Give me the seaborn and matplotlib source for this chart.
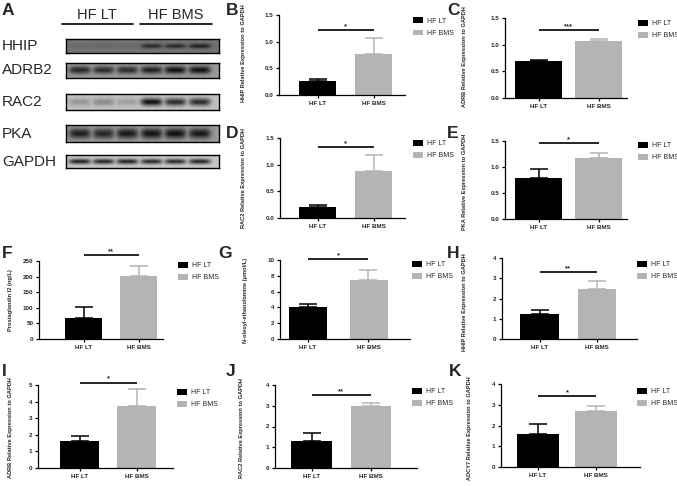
import numpy as np
import matplotlib
matplotlib.use("Agg")
import matplotlib.pyplot as plt
import seaborn as sns
import pandas as pd
from matplotlib.patches import Patch
from matplotlib.lines import Line2D

sns.set_theme(style="ticks")
plt.rcParams['font.family'] = ['Liberation Sans', 'DejaVu Sans']

# ---------------- data ----------------
groups = ["HF LT", "HF BMS"]
bar_colors = ["#000000", "#b4b4b4"]

# western blot (panel A): darkness of each band per lane (3 HF LT + 3 HF BMS)
blot_rows = ["HHIP", "ADRB2", "RAC2", "PKA", "GAPDH"]
blot_background = [0.45, 0.6, 0.76, 0.6, 0.78]
hhip_bands = [0.1, 0.12, 0.1, 0.75, 0.75, 0.85]
adrb2_bands = [0.85, 0.8, 0.8, 0.9, 1.0, 1.0]
rac2_bands = [0.25, 0.32, 0.2, 1.0, 0.85, 0.85]
pka_bands = [0.9, 0.85, 0.95, 1.0, 1.0, 0.95]
gapdh_bands = [0.9, 0.88, 0.9, 0.85, 0.85, 0.88]
band_thickness = [0.17, 0.24, 0.24, 0.3, 0.2]

# bar panels: mean and SEM for HF LT, HF BMS
hhip_wb_mean, hhip_wb_sem = [0.27, 0.77], [0.03, 0.30]
adrb_wb_mean, adrb_wb_sem = [0.69, 1.07], [0.02, 0.03]
rac2_wb_mean, rac2_wb_sem = [0.21, 0.88], [0.04, 0.30]
pka_wb_mean, pka_wb_sem = [0.79, 1.18], [0.18, 0.09]
pgi2_mean, pgi2_sem = [67, 202], [35, 33]
oea_mean, oea_sem = [4.05, 7.45], [0.40, 1.30]
hhip_q_mean, hhip_q_sem = [1.25, 2.48], [0.20, 0.39]
adrb_q_mean, adrb_q_sem = [1.63, 3.75], [0.32, 1.00]
rac2_q_mean, rac2_q_sem = [1.32, 3.00], [0.38, 0.15]
adcy7_q_mean, adcy7_q_sem = [1.60, 2.72], [0.45, 0.23]

ylabels = ["HHIP Relative Expression to GAPDH", "ADRB Relative Expression to GAPDH",
           "RAC2 Relative Expression to GAPDH", "PKA Relative Expression to GAPDH",
           "Prostaglandin I2 (ng/L)", "N-oleoyl-ethanolamine (μmol/L)",
           "HHIP Relative Expression to GAPDH", "ADRB Relative Expression to GAPDH",
           "RAC2 Relative Expression to GAPDH", "ADCY7 Relative Expression to GAPDH"]
significance = ["*", "***", "*", "*", "**", "*", "**", "*", "**", "*"]
yticks_small = [0, 0.5, 1.0, 1.5]
yticks_pgi2 = [0, 50, 100, 150, 200, 250]
yticks_oea = [0, 2, 4, 6, 8, 10]
yticks_four = [0, 1, 2, 3, 4]
yticks_five = [0, 1, 2, 3, 4, 5]

# ---------------- layout (pixels) ----------------
W, H = 677, 486
fig = plt.figure(figsize=(W / 100, H / 100), dpi=100)


def fbox(l, t, r, b):
    return [l / W, 1 - b / H, (r - l) / W, (b - t) / H]


bar_panels = [
    dict(letter="B", mean=hhip_wb_mean, sem=hhip_wb_sem, ticks=yticks_small, fmt="{:.1f}",
         box=(279, 15, 405, 95), bars=(299, 336, 355, 392), sig=1.22, leg=(413, 17.5),
         ylx=246, yly=53, let=(226, 3)),
    dict(letter="C", mean=adrb_wb_mean, sem=adrb_wb_sem, ticks=yticks_small, fmt="{:.1f}",
         box=(505, 18, 627, 98), bars=(515, 562, 575, 622), sig=1.27, leg=(638, 20),
         ylx=467, yly=57, let=(447, 3)),
    dict(letter="D", mean=rac2_wb_mean, sem=rac2_wb_sem, ticks=yticks_small, fmt="{:.1f}",
         box=(280, 138, 405, 218), bars=(299, 336, 355, 392), sig=1.33, leg=(413, 140),
         ylx=246, yly=178, let=(226, 126)),
    dict(letter="E", mean=pka_wb_mean, sem=pka_wb_sem, ticks=yticks_small, fmt="{:.1f}",
         box=(505, 141, 627, 219), bars=(515, 562, 575, 622), sig=1.46, leg=(638, 142),
         ylx=467, yly=182, let=(447, 126)),
    dict(letter="F", mean=pgi2_mean, sem=pgi2_sem, ticks=yticks_pgi2, fmt="{:d}",
         box=(39, 261, 163, 339), bars=(65, 102, 120, 157), sig=268, leg=(178, 262),
         ylx=13, yly=300, let=(2, 246)),
    dict(letter="G", mean=oea_mean, sem=oea_sem, ticks=yticks_oea, fmt="{:d}",
         box=(280, 260, 410, 339), bars=(288, 327, 350, 387), sig=10.1, leg=(412, 261),
         ylx=248, yly=300, let=(218, 246)),
    dict(letter="H", mean=hhip_q_mean, sem=hhip_q_sem, ticks=yticks_four, fmt="{:d}",
         box=(502, 258, 637, 339), bars=(520, 559, 578, 616), sig=3.3, leg=(637, 261),
         ylx=467, yly=302, let=(447, 246)),
    dict(letter="I", mean=adrb_q_mean, sem=adrb_q_sem, ticks=yticks_five, fmt="{:d}",
         box=(38, 385, 173, 468), bars=(60, 99, 117, 156), sig=5.14, leg=(177, 389),
         ylx=13, yly=428, let=(2, 364)),
    dict(letter="J", mean=rac2_q_mean, sem=rac2_q_sem, ticks=yticks_four, fmt="{:d}",
         box=(275, 385, 417, 468), bars=(290, 333, 352, 390), sig=3.52, leg=(412, 388),
         ylx=244, yly=428, let=(226, 364)),
    dict(letter="K", mean=adcy7_q_mean, sem=adcy7_q_sem, ticks=yticks_four, fmt="{:d}",
         box=(501, 384, 640, 467), bars=(517, 559, 575, 617), sig=3.42, leg=(637, 388),
         ylx=472, yly=428, let=(449, 364)),
]

for i, p in enumerate(bar_panels):
    L, T, R, B = p["box"]
    ax = fig.add_axes(fbox(L, T, R, B))
    df = pd.DataFrame({"group": groups, "value": p["mean"]})
    l1, r1, l2, r2 = p["bars"]
    c1, c2 = (l1 + r1) / 2, (l2 + r2) / 2
    unit = c2 - c1
    width = ((r1 - l1) + (r2 - l2)) / 2 / unit
    sns.barplot(data=df, x="group", y="value", hue="group", palette=bar_colors,
                order=groups, hue_order=groups, width=width, errorbar=None,
                legend=False, ax=ax, saturation=1, edgecolor="none")
    for k in range(2):
        ax.errorbar(k, p["mean"][k], yerr=[[0], [p["sem"][k]]], color=bar_colors[k],
                    capsize=6.5, elinewidth=1.1, capthick=1.1, lw=0)
    ax.set_xlim(-(c1 - L) / unit, (R - c1) / unit)
    ticks = p["ticks"]
    ax.set_ylim(0, ticks[-1])
    ax.set_yticks(ticks)
    ax.set_yticklabels([p["fmt"].format(t) for t in ticks])
    ax.set_xlabel("")
    ax.set_ylabel(ylabels[i], fontsize=4.1, fontweight="bold")
    ax.yaxis.set_label_coords(p["ylx"] / W, 1 - p["yly"] / H, transform=fig.transFigure)
    ax.tick_params(axis="both", length=2.5, width=0.9, labelsize=4.5, pad=1.5, color="black")
    for lbl in ax.get_xticklabels() + ax.get_yticklabels():
        lbl.set_fontweight("bold")
    for s in ["top", "right"]:
        ax.spines[s].set_visible(False)
    for s in ["left", "bottom"]:
        ax.spines[s].set_linewidth(0.9)
        ax.spines[s].set_color("black")
    # significance bar
    ax.plot([0, 1], [p["sig"], p["sig"]], color="black", lw=1.2, clip_on=False,
            solid_capstyle="butt")
    ax.text(0.5, p["sig"], significance[i], ha="center", va="bottom", fontsize=5.5,
            fontweight="bold", clip_on=False)
    handles = [Patch(facecolor=c, edgecolor="none", label=g) for c, g in zip(bar_colors, groups)]
    lx, ly = p["leg"]
    ax.legend(handles=handles, loc="upper left", bbox_to_anchor=(lx / W, 1 - ly / H),
              bbox_transform=fig.transFigure, frameon=False, fontsize=5,
              handlelength=1.45, handleheight=0.85, handletextpad=0.5,
              labelspacing=0.7, borderpad=0, borderaxespad=0)
    fx, fy = p["let"]
    fig.text(fx / W, 1 - fy / H, p["letter"], fontsize=12.5, fontweight="bold",
             ha="left", va="top")

# ---------------- panel A: western blot ----------------
fig.text(2 / W, 1 - 3 / H, "A", fontsize=12.5, fontweight="bold", ha="left", va="top")
fig.text(97 / W, 1 - 15 / H, "HF LT", fontsize=10.5, ha="center", va="center")
fig.text(176 / W, 1 - 15 / H, "HF BMS", fontsize=10.5, ha="center", va="center")
fig.add_artist(Line2D([62 / W, 133 / W], [1 - 24 / H] * 2, color="black", lw=1.2))
fig.add_artist(Line2D([140 / W, 212 / W], [1 - 24 / H] * 2, color="black", lw=1.2))

blot_boxes = [(39, 53), (63, 78), (94, 110), (125, 142), (155, 168)]
all_bands = [hhip_bands, adrb2_bands, rac2_bands, pka_bands, gapdh_bands]
lane_centers = [0.09, 0.245, 0.40, 0.56, 0.715, 0.875]
nx, ny = 300, 40
xs = np.linspace(0, 1, nx)
ys = np.linspace(0, 1, ny)
for r, name in enumerate(blot_rows):
    t, b = blot_boxes[r]
    ax = fig.add_axes(fbox(66, t, 219, b))
    bg = blot_background[r]
    vprof = np.exp(-((ys - 0.5) / band_thickness[r]) ** 2)
    dark = np.zeros((ny, nx))
    for c, d in zip(lane_centers, all_bands[r]):
        hprof = np.exp(-((xs - c) / 0.072) ** 4)
        dark = np.maximum(dark, d * np.outer(vprof, hprof))
    img = bg - (bg - 0.07) * dark
    ax.imshow(img, cmap="gray", vmin=0, vmax=1, aspect="auto", interpolation="bilinear")
    ax.set_xticks([])
    ax.set_yticks([])
    for s in ax.spines.values():
        s.set_linewidth(1.0)
        s.set_color("black")
    fig.text(2 / W, 1 - ((t + b) / 2) / H, name, fontsize=11, ha="left", va="center")

fig.savefig("out.png", dpi=100)
